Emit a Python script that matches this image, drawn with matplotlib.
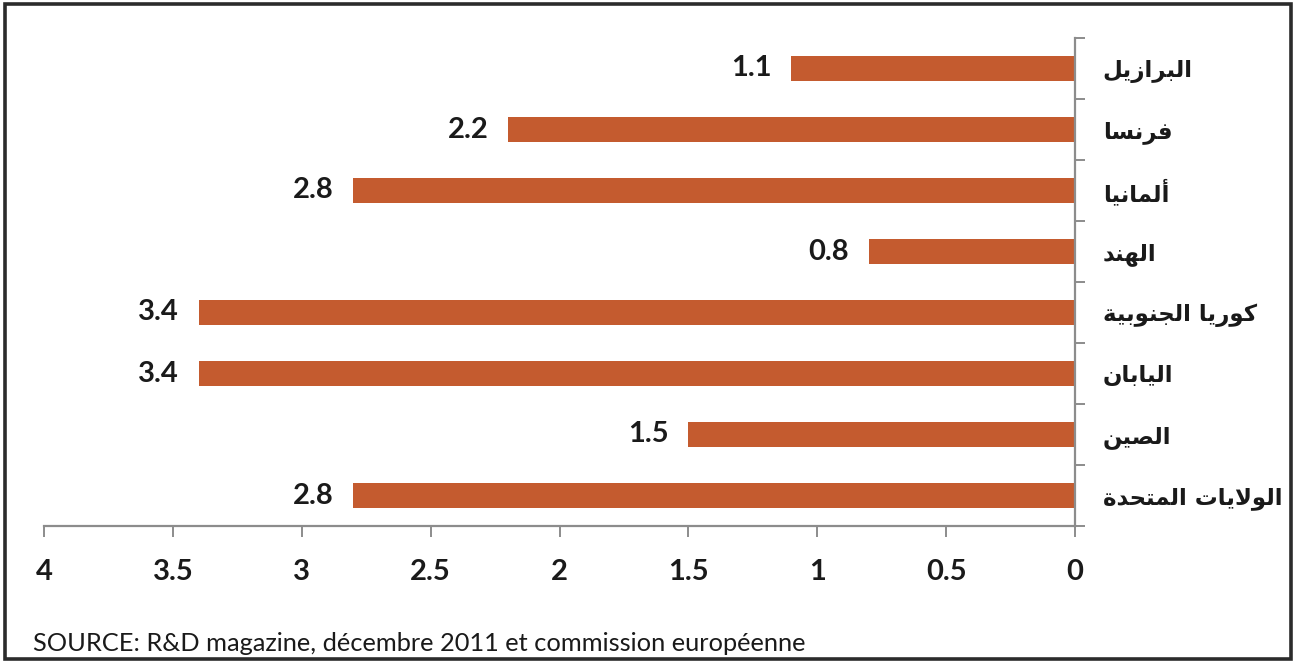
import matplotlib
matplotlib.use("Agg")
import matplotlib.pyplot as plt
from matplotlib.patches import Rectangle
from matplotlib.ticker import FixedLocator, FuncFormatter
import numpy as np

# R&D spending as a share of GDP (%)
countries = ['البرازيل', 'فرنسا', 'ألمانيا', 'الهند',
             'كوريا الجنوبية', 'اليابان', 'الصين', 'الولايات المتحدة']
values = [1.1, 2.2, 2.8, 0.8, 3.4, 3.4, 1.5, 2.8]
x_ticks = [0, 0.5, 1, 1.5, 2, 2.5, 3, 3.5, 4]
source = "SOURCE: R&D magazine, décembre 2011 et commission européenne"

BAR_COLOR = '#C45B2F'
AXIS_COLOR = '#8C8C8C'
TEXT_COLOR = '#1A1A1A'

# --- minimal Arabic shaping (matplotlib has no complex text layout) ---
# letter -> (isolated presentation form, number of forms)
FORMS = {
    '\u0621': (0xFE80, 1), '\u0622': (0xFE81, 2), '\u0623': (0xFE83, 2),
    '\u0624': (0xFE85, 2), '\u0625': (0xFE87, 2), '\u0626': (0xFE89, 4),
    '\u0627': (0xFE8D, 2), '\u0628': (0xFE8F, 4), '\u0629': (0xFE93, 2),
    '\u062A': (0xFE95, 4), '\u062B': (0xFE99, 4), '\u062C': (0xFE9D, 4),
    '\u062D': (0xFEA1, 4), '\u062E': (0xFEA5, 4), '\u062F': (0xFEA9, 2),
    '\u0630': (0xFEAB, 2), '\u0631': (0xFEAD, 2), '\u0632': (0xFEAF, 2),
    '\u0633': (0xFEB1, 4), '\u0634': (0xFEB5, 4), '\u0635': (0xFEB9, 4),
    '\u0636': (0xFEBD, 4), '\u0637': (0xFEC1, 4), '\u0638': (0xFEC5, 4),
    '\u0639': (0xFEC9, 4), '\u063A': (0xFECD, 4), '\u0641': (0xFED1, 4),
    '\u0642': (0xFED5, 4), '\u0643': (0xFED9, 4), '\u0644': (0xFEDD, 4),
    '\u0645': (0xFEE1, 4), '\u0646': (0xFEE5, 4), '\u0647': (0xFEE9, 4),
    '\u0648': (0xFEED, 2), '\u0649': (0xFEEF, 2), '\u064A': (0xFEF1, 4),
}
LAM_ALEF = {'\u0622': 0xFEF5, '\u0623': 0xFEF7, '\u0625': 0xFEF9, '\u0627': 0xFEFB}


def shape_arabic(text):
    chars = list(text)
    n = len(chars)
    out = []
    i = 0
    while i < n:
        c = chars[i]
        if c not in FORMS:
            out.append(c)
            i += 1
            continue
        base, k = FORMS[c]
        prev = chars[i - 1] if i > 0 else None
        join_prev = (k >= 2 and prev in FORMS and FORMS[prev][1] == 4)
        if c == '\u0644' and i + 1 < n and chars[i + 1] in LAM_ALEF:
            out.append(chr(LAM_ALEF[chars[i + 1]] + (1 if join_prev else 0)))
            i += 2
            continue
        nxt = chars[i + 1] if i + 1 < n else None
        join_next = (k == 4 and nxt in FORMS and FORMS[nxt][1] >= 2)
        if join_prev and join_next:
            code = base + 3
        elif join_prev:
            code = base + 1
        elif join_next:
            code = base + 2
        else:
            code = base
        out.append(chr(code))
        i += 1
    return ''.join(reversed(out))


fig = plt.figure(figsize=(12.95, 6.62), dpi=100)
ax = fig.add_axes([44 / 1295, 1 - 526 / 662, (1075 - 44) / 1295, (526 - 38) / 662])

y = np.arange(len(countries))
ax.barh(y, values, height=0.41, color=BAR_COLOR, zorder=2)

ax.set_xlim(4, 0)
ax.set_ylim(len(countries) - 0.5, -0.5)

for sp in ['left', 'top']:
    ax.spines[sp].set_visible(False)
for sp in ['right', 'bottom']:
    ax.spines[sp].set_color(AXIS_COLOR)
    ax.spines[sp].set_linewidth(1.6)

# x axis
ax.xaxis.set_major_locator(FixedLocator(x_ticks))
ax.xaxis.set_major_formatter(FuncFormatter(lambda v, p: f'{v:g}'))
ax.tick_params(axis='x', direction='out', length=8, width=1.4, color=AXIS_COLOR,
               pad=16, labelsize=21, labelcolor=TEXT_COLOR)
for lbl in ax.get_xticklabels():
    lbl.set_fontfamily('Lato')
    lbl.set_fontweight('bold')

# y axis on the right: boundary ticks plus category names
ax.yaxis.tick_right()
ax.set_yticks(y)
ax.set_yticklabels([shape_arabic(c) for c in countries])
ax.set_yticks(np.arange(-0.5, len(countries)), minor=True)
ax.tick_params(axis='y', which='major', length=0, pad=20, labelsize=16.5,
               labelcolor=TEXT_COLOR)
ax.tick_params(axis='y', which='minor', direction='out', length=7, width=1.4,
               color=AXIS_COLOR)
for lbl in ax.get_yticklabels():
    lbl.set_fontfamily('DejaVu Sans')
    lbl.set_fontweight('bold')

# value labels beyond the bar ends
for yi, v in zip(y, values):
    ax.annotate(f'{v:g}', xy=(v, yi), xytext=(-14, 0), textcoords='offset points',
                ha='right', va='center', fontsize=21, fontfamily='Lato',
                fontweight='bold', color=TEXT_COLOR)

fig.text(33 / 1295, 1 - 651 / 662, source, fontsize=18.3, fontfamily='Lato',
         color=TEXT_COLOR, ha='left', va='baseline')

# outer frame
fig.patches.append(Rectangle((5 / 1295, 3 / 662), 1286 / 1295, 655 / 662,
                             transform=fig.transFigure, fill=False,
                             edgecolor='#2B2B2B', linewidth=2.6))

fig.savefig('out.png', dpi=100)
